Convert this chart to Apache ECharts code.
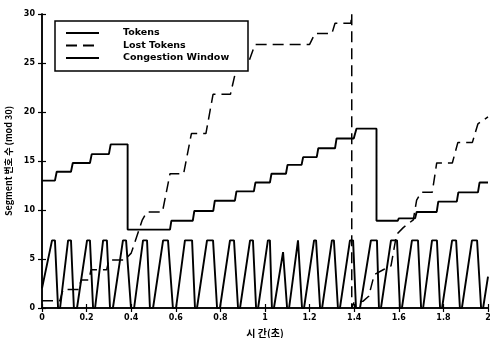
<!DOCTYPE html>
<html>
<head>
<meta charset="utf-8">
<script src="https://cdn.jsdelivr.net/npm/echarts@6/dist/echarts.min.js"></script>
<style>
  html, body { margin: 0; padding: 0; background: #fff; }
  #chart { width: 490px; height: 338px; }
</style>
</head>
<body>
<div id="chart"></div>
<script>
// x ticks (seconds) and y ticks (segment number mod 30)
const xTicks = [0, 0.2, 0.4, 0.6, 0.8, 1, 1.2, 1.4, 1.6, 1.8, 2];
const yTicks = [0, 5, 10, 15, 20, 25, 30];

// [time, value]
const tokens = [
  [0, 13], [0.058, 13], [0.066, 13.9], [0.13, 13.9], [0.138, 14.8], [0.215, 14.8],
  [0.223, 15.7], [0.3, 15.7], [0.308, 16.7], [0.384, 16.7], [0.384, 8], [0.574, 8],
  [0.58, 8.9], [0.676, 8.9], [0.683, 9.9], [0.768, 9.9], [0.775, 10.95], [0.865, 10.95],
  [0.872, 11.9], [0.95, 11.9], [0.957, 12.8], [1.022, 12.8], [1.029, 13.7], [1.094, 13.7],
  [1.101, 14.6], [1.164, 14.6], [1.171, 15.4], [1.232, 15.4], [1.239, 16.3], [1.314, 16.3],
  [1.321, 17.3], [1.398, 17.3], [1.41, 18.3], [1.5, 18.3], [1.5, 8.9], [1.595, 8.9],
  [1.6, 9.15], [1.673, 9.15], [1.68, 9.8], [1.77, 9.8], [1.777, 10.85], [1.86, 10.85],
  [1.867, 11.8], [1.955, 11.8], [1.962, 12.8], [2, 12.8]
];

const lostTokens = [
  [0, 0.75], [0.08, 0.75], [0.095, 1.9], [0.165, 1.9], [0.175, 2.85], [0.21, 2.85],
  [0.22, 3.9], [0.29, 3.9], [0.3, 4.9], [0.37, 4.9], [0.4, 5.6], [0.45, 9], [0.47, 9.8],
  [0.54, 9.8], [0.574, 13.7], [0.635, 13.7], [0.67, 17.8], [0.735, 17.8], [0.767, 21.8],
  [0.845, 21.8], [0.87, 24.3], [0.93, 25.3], [0.955, 26.9], [1.2, 26.9], [1.224, 28],
  [1.3, 28], [1.314, 29.05], [1.385, 29.05], [1.389, 30], [1.389, 0], [1.4, 0.6],
  [1.44, 0.7], [1.465, 1.2], [1.49, 3.4], [1.53, 3.9], [1.565, 4.3], [1.59, 7.5],
  [1.62, 8.2], [1.665, 9], [1.68, 11], [1.7, 11.8], [1.75, 11.8], [1.77, 14.8],
  [1.84, 14.8], [1.865, 16.9], [1.93, 16.9], [1.955, 18.8], [2, 19.5]
];

const congestionWindow = [
  [0, 2], [0.045, 6.9], [0.058, 6.9], [0.072, 0], [0.081, 0],
  [0.117, 6.9], [0.13, 6.9], [0.143, 0], [0.157, 0],
  [0.202, 6.9], [0.215, 6.9], [0.229, 0], [0.238, 0],
  [0.274, 6.9], [0.291, 6.9], [0.305, 0], [0.318, 0],
  [0.363, 6.9], [0.377, 6.9], [0.399, 0], [0.413, 0],
  [0.453, 6.9], [0.471, 6.9], [0.484, 0], [0.498, 0],
  [0.543, 6.9], [0.565, 6.9], [0.587, 0], [0.601, 0],
  [0.641, 6.9], [0.673, 6.9], [0.686, 0], [0.695, 0],
  [0.74, 6.9], [0.767, 6.9], [0.785, 0], [0.798, 0],
  [0.843, 6.9], [0.861, 6.9], [0.879, 0], [0.888, 0],
  [0.933, 6.9], [0.946, 6.9], [0.96, 0], [0.969, 0],
  [1.013, 6.9], [1.022, 6.9], [1.031, 0], [1.04, 0],
  [1.081, 5.7], [1.099, 0], [1.108, 0],
  [1.148, 6.9], [1.166, 0], [1.175, 0],
  [1.22, 6.9], [1.229, 6.9], [1.247, 0], [1.256, 0],
  [1.3, 6.9], [1.309, 6.9], [1.327, 0], [1.336, 0],
  [1.381, 6.9], [1.395, 6.9], [1.408, 0], [1.426, 0],
  [1.475, 6.9], [1.502, 6.9], [1.511, 0], [1.52, 0],
  [1.565, 6.9], [1.592, 6.9], [1.605, 0], [1.614, 0],
  [1.659, 6.9], [1.686, 6.9], [1.7, 0], [1.709, 0],
  [1.749, 6.9], [1.771, 6.9], [1.785, 0], [1.794, 0],
  [1.839, 6.9], [1.857, 6.9], [1.874, 0], [1.883, 0],
  [1.928, 6.9], [1.951, 6.9], [1.969, 0], [1.978, 0],
  [2, 3.2]
];

const FONT = 'DejaVu Sans';
const chart = echarts.init(document.getElementById('chart'));

// matlab-like frame: ticks inside on all four sides
const frameAxis = (extra) => Object.assign({
  type: 'value',
  axisLine: { show: true, lineStyle: { color: '#000', width: 1.5 } },
  axisTick: { show: true, inside: true, length: 4, lineStyle: { color: '#000', width: 1.2 } },
  splitLine: { show: false }
}, extra);

const line = (name, data, type, width) => ({
  name,
  type: 'line',
  data,
  symbol: 'none',
  color: '#000',
  animation: false,
  lineStyle: { color: '#000', width, type }
});

chart.setOption({
  animation: false,
  backgroundColor: '#fff',
  grid: { left: 42, right: 2, top: 14, bottom: 30, outerBoundsMode: 'none' },
  xAxis: [
    frameAxis({
      min: 0, max: 2, interval: 0.2,
      position: 'bottom',
      name: '시 간(초)',
      nameLocation: 'middle',
      nameGap: 20,
      nameTextStyle: { fontFamily: 'Noto Sans CJK KR', fontWeight: 'bold', fontSize: 10, color: '#000' },
      axisLabel: {
        margin: 6, color: '#000', fontFamily: FONT, fontWeight: 'bold', fontSize: 8,
        formatter: v => xTicks.includes(+v.toFixed(1)) ? String(+v.toFixed(1)) : ''
      }
    }),
    frameAxis({ min: 0, max: 2, interval: 0.2, position: 'top', axisLabel: { show: false } })
  ],
  yAxis: [
    frameAxis({
      min: 0, max: 30, interval: 5,
      position: 'left',
      name: 'Segment 번호 수 (mod 30)',
      nameLocation: 'middle',
      nameGap: 26,
      nameTextStyle: { fontFamily: 'Noto Sans CJK KR', fontWeight: 'bold', fontSize: 9, color: '#000' },
      axisLabel: {
        margin: 7, color: '#000', fontFamily: FONT, fontWeight: 'bold', fontSize: 8,
        formatter: v => yTicks.includes(v) ? String(v) : ''
      }
    }),
    frameAxis({ min: 0, max: 30, interval: 5, position: 'right', axisLabel: { show: false } })
  ],
  graphic: [{
    type: 'rect',
    z: 10,
    shape: { x: 55, y: 21, width: 193, height: 50 },
    style: { fill: '#fff', stroke: '#000', lineWidth: 1.5 }
  }],
  legend: {
    z: 20,
    orient: 'vertical',
    left: 60,
    top: 23,
    itemWidth: 33,
    itemHeight: 10,
    itemGap: 2.5,
    itemStyle: { opacity: 0 },
    data: ['Tokens', 'Lost Tokens', 'Congestion Window'],
    textStyle: {
      color: '#000', fontFamily: FONT, fontWeight: 'bold', fontSize: 9.5,
      padding: [0, 0, 0, 19]
    }
  },
  series: [
    line('Tokens', tokens, 'solid', 1.9),
    line('Lost Tokens', lostTokens, [11, 6], 1.5),
    line('Congestion Window', congestionWindow, 'solid', 1.9)
  ]
});
</script>
</body>
</html>
